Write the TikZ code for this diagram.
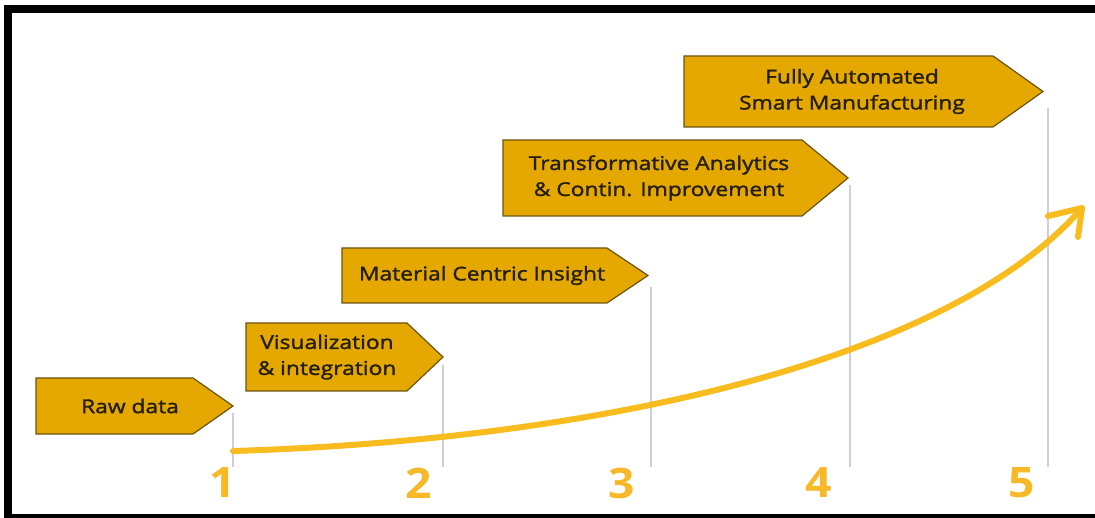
\documentclass[tikz,border=0pt]{standalone}
\usepackage{fontspec}
\setmainfont{Open Sans}
\newfontfamily\boxfont[FakeStretch=1.2,FakeBold=1.6]{Open Sans}
\newfontfamily\numfont[FakeStretch=1.1]{Open Sans}
\usetikzlibrary{calc}
\definecolor{boxfill}{HTML}{E5A800}
\definecolor{boxline}{HTML}{6B5312}
\definecolor{boxtext}{HTML}{231E0E}
\definecolor{curvecol}{HTML}{F8BC1E}
\definecolor{numcol}{HTML}{F7B927}
\definecolor{tickcol}{HTML}{CFCFCF}
\tikzset{
  stepshape/.style={fill=boxfill, draw=boxline, line width=1.2pt, line join=miter},
  steptext/.style={text=boxtext, font=\boxfont\fontsize{19}{26}\selectfont, align=center, inner sep=0pt},
  tick/.style={draw=tickcol, line width=1.5pt},
  numlabel/.style={text=numcol, font=\numfont\fontsize{42}{42}\selectfont\bfseries, inner sep=0pt},
  growth/.style={draw=curvecol, line width=6pt, line cap=round, line join=round}
}
\newcommand{\mystep}[8]{%
  % #1 name, #2 left, #3 top, #4 shoulder, #5 tip, #6 bottom, #7 text x, #8 text
  \draw[stepshape] (#2,#3) -- (#4,#3) -- (#5,{(#3+#6)/2}) -- (#4,#6) -- (#2,#6) -- cycle;
  \coordinate (#1tip) at (#5,{(#3+#6)/2});
  \node[steptext] (#1) at (#7,{(#3+#6)/2}) {#8};
}
\begin{document}
\begin{tikzpicture}[x=1pt,y=-1pt]
\useasboundingbox (0,0) rectangle (1095,518);
\fill[white] (0,0) rectangle (1095,518);
% frame
\fill[black] (4,5) rectangle (12,518);
\fill[black] (4,5) rectangle (1095,13);
\fill[black] (4,514) rectangle (1095,518);

% step boxes
\mystep{s1}{36}{378}{193}{233}{434}{130}{Raw data}
\mystep{s2}{246}{323}{407}{443}{391}{327}{Visualization\\\& integration}
\mystep{s3}{342}{248}{607}{648}{303}{482}{Material Centric Insight}
\mystep{s4}{503}{140}{802}{848}{216}{659}{Transformative Analytics\\\& Contin. Improvement}
\mystep{s5}{684}{56}{993}{1043}{127}{852}{Fully Automated\\Smart Manufacturing}

% ticks
\coordinate (t1a) at (233,413); \coordinate (t1b) at (233,467);
\coordinate (t2a) at (443,365); \coordinate (t2b) at (443,467);
\coordinate (t3a) at (651,287); \coordinate (t3b) at (651,467);
\coordinate (t4a) at (850,185); \coordinate (t4b) at (850,467);
\coordinate (t5a) at (1048,108); \coordinate (t5b) at (1048,467);
\draw[tick] (t1a) -- (t1b);
\draw[tick] (t2a) -- (t2b);
\draw[tick] (t3a) -- (t3b);
\draw[tick] (t4a) -- (t4b);
\draw[tick] (t5a) -- (t5b);

% numbers
\node[numlabel] (n1) at (223,483) {1};
\node[numlabel] (n2) at (419,483) {2};
\node[numlabel] (n3) at (622,483) {3};
\node[numlabel] (n4) at (819,483) {4};
\node[numlabel] (n5) at (1022,483) {5};

% growth curve
\coordinate (cstart) at (233,451);
\coordinate (ctip) at (1082,208);
\coordinate (barb1) at (1048,216);
\coordinate (barb2) at (1078,237);
\draw[growth] (cstart) .. controls (600,440) and (950,360) .. (ctip);
\draw[growth] (barb1) -- (ctip) -- (barb2);
\end{tikzpicture}
\end{document}
